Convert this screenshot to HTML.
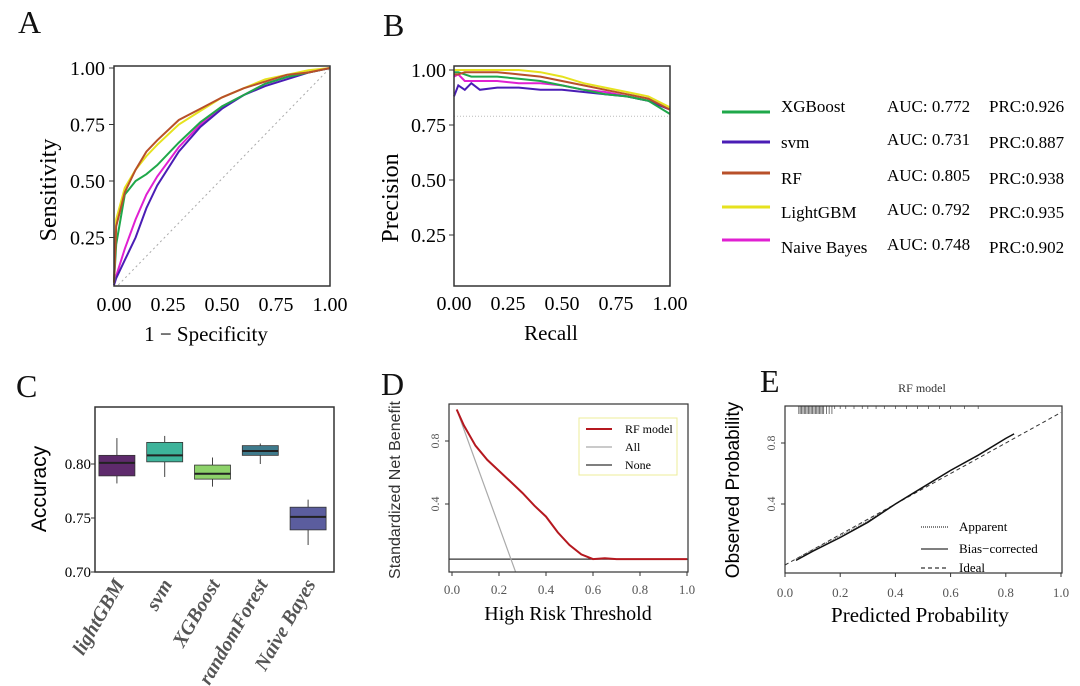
<!DOCTYPE html>
<html><head><meta charset="utf-8">
<style>
html,body{margin:0;padding:0;background:#fff;}
svg{display:block;font-family:"Liberation Serif",serif;}
</style></head>
<body>
<svg id="fig" width="1080" height="686" viewBox="0 0 1080 686" xmlns="http://www.w3.org/2000/svg"></svg>
<script>
// ---------- Panel A (ROC) data ----------
const rocX = [0,0.01,0.05,0.1,0.15,0.2,0.3,0.4,0.5,0.6,0.7,0.8,0.9,1];
const rocRF = [0.05,0.3,0.45,0.55,0.63,0.68,0.77,0.82,0.87,0.91,0.94,0.97,0.98,1];
const rocLGB = [0.05,0.33,0.47,0.55,0.61,0.66,0.75,0.81,0.87,0.91,0.95,0.97,0.99,1];
const rocXGB = [0.05,0.22,0.44,0.50,0.53,0.57,0.67,0.76,0.83,0.88,0.93,0.96,0.98,1];
const rocSVM = [0.04,0.07,0.15,0.25,0.38,0.48,0.63,0.74,0.82,0.88,0.92,0.95,0.98,1];
const rocNB = [0.04,0.08,0.2,0.33,0.44,0.52,0.65,0.75,0.83,0.88,0.93,0.96,0.98,1];
// ---------- Panel B (PR) data ----------
const prX = [0,0.02,0.05,0.08,0.12,0.2,0.3,0.4,0.5,0.6,0.7,0.8,0.9,1];
const prRF = [0.98,0.98,0.99,0.99,0.99,0.99,0.98,0.97,0.95,0.93,0.91,0.89,0.87,0.82];
const prLGB = [1,1,1,1,1,1,1,0.99,0.97,0.94,0.92,0.9,0.88,0.83];
const prXGB = [0.99,0.99,0.98,0.97,0.97,0.97,0.96,0.95,0.93,0.91,0.89,0.88,0.86,0.80];
const prSVM = [0.88,0.93,0.91,0.94,0.91,0.92,0.92,0.91,0.91,0.9,0.89,0.88,0.86,0.82];
const prNB = [0.97,0.98,0.95,0.95,0.95,0.95,0.94,0.94,0.93,0.91,0.9,0.88,0.86,0.82];
const prBaseline = 0.79;
const seriesNames = ["XGBoost","svm","RF","LightGBM","Naive Bayes"];
const aucVals = ["0.772","0.731","0.805","0.792","0.748"];
const prcVals = ["0.926","0.887","0.938","0.935","0.902"];
const tickAB = [0,0.25,0.5,0.75,1];
// ---------- Panel C (boxplot) ----------
const boxCats = ["lightGBM","svm","XGBoost","randomForest","Naive Bayes"];
const boxMin = [0.782,0.788,0.779,0.800,0.725];
const boxQ1 = [0.789,0.802,0.786,0.808,0.739];
const boxMed = [0.801,0.808,0.791,0.812,0.751];
const boxQ3 = [0.808,0.820,0.799,0.817,0.760];
const boxMax = [0.824,0.826,0.806,0.819,0.767];
const accTicks = [0.70,0.75,0.80];
// ---------- Panel D (DCA) ----------
const dcaX = [0.02,0.05,0.1,0.15,0.2,0.25,0.3,0.35,0.4,0.45,0.5,0.55,0.6,0.65,0.7,0.75,0.8,0.9,1.0];
const dcaRF = [1.0,0.9,0.77,0.68,0.61,0.54,0.47,0.39,0.32,0.22,0.14,0.08,0.05,0.055,0.05,0.05,0.05,0.05,0.05];
const dcaAllX = [0.02,0.27];
const dcaAllY = [1.0,-0.03];
const dcaNone = 0.05;
const dcaTicksY = [0.4,0.8];
const tick01 = [0,0.2,0.4,0.6,0.8,1.0];
// ---------- Panel E (calibration) ----------
const calX = [0.04,0.1,0.2,0.3,0.4,0.5,0.6,0.7,0.8,0.83];
const calBias = [0.03,0.09,0.18,0.28,0.4,0.51,0.62,0.72,0.83,0.86];
const calApp = [0.04,0.1,0.19,0.29,0.4,0.51,0.62,0.72,0.83,0.86];
const rugX = [0.05,0.055,0.06,0.065,0.07,0.075,0.08,0.085,0.09,0.095,0.1,0.105,0.11,0.115,0.12,0.125,0.13,0.135,0.14,0.15,0.16,0.17,0.18,0.2,0.22,0.25,0.28,0.3,0.33,0.36,0.4,0.44,0.48,0.52,0.56,0.6,0.65,0.7];

const NS="http://www.w3.org/2000/svg";
const svg=document.getElementById('fig');
function mk(tag,attrs,parent){const e=document.createElementNS(NS,tag);for(const k in attrs)e.setAttribute(k,attrs[k]);(parent||svg).appendChild(e);return e;}
function txt(s,x,y,size,extra,parent){const e=mk('text',Object.assign({x:x,y:y,'font-size':size},extra||{}),parent);e.textContent=s;return e;}
function lin(d0,d1,r0,r1){return v=>r0+(v-d0)/(d1-d0)*(r1-r0);}
function pathFrom(xs,ys,sx,sy){return xs.map((v,i)=>(i?'L':'M')+sx(v).toFixed(1)+','+sy(ys[i]).toFixed(1)).join(' ');}

[["A",18,33],["B",383,36],["C",16,397],["D",381,395],["E",760,392]].forEach(l=>{
  const t=txt(l[0],l[1],l[2],32,{fill:'#111'});
  
  
});

const colors={XGBoost:'#1fa84a',svm:'#4a1db5',RF:'#b8502a',LightGBM:'#e6e21e','Naive Bayes':'#e020d2'};

// ===== Panel A =====
{
const g=mk('g',{});


const sx=lin(0,1,114,330), sy=lin(0,1,294,68);
const diag=mk('line',{x1:sx(0.02),y1:sy(0.04),x2:sx(1),y2:sy(1),stroke:'#aaa','stroke-dasharray':'2,3'},g);


const order=[["Naive Bayes",rocNB],["svm",rocSVM],["XGBoost",rocXGB],["LightGBM",rocLGB],["RF",rocRF]];
order.forEach(o=>{
  const p=mk('path',{d:pathFrom(rocX,o[1],sx,sy),fill:'none',stroke:colors[o[0]],'stroke-width':2},g);
  
  
});
const frame=mk('rect',{x:114,y:66,width:216,height:220,fill:'none',stroke:'#333','stroke-width':1.5},g);


tickAB.forEach(v=>{
  if(v>0){mk('line',{x1:109,x2:114,y1:sy(v),y2:sy(v),stroke:'#333'},g);
  const t=txt(v.toFixed(2),105,sy(v)+7,20,{'text-anchor':'end'},g);
  
  }
  const t2=txt(v.toFixed(2),sx(v),311,20,{'text-anchor':'middle'},g);
  
  
});
const yt=txt('Sensitivity',0,0,24,{transform:'translate(56,190) rotate(-90)','text-anchor':'middle'},g);


const xt=txt('1 − Specificity',206,341,21,{'text-anchor':'middle'},g);


}

// ===== Panel B =====
{
const g=mk('g',{});


const sx=lin(0,1,454,670), sy=lin(0,1,290,70);
const bl=mk('line',{x1:sx(0),x2:sx(1),y1:sy(prBaseline),y2:sy(prBaseline),stroke:'#bbb','stroke-dasharray':'1,2'},g);


const order=[["Naive Bayes",prNB],["svm",prSVM],["XGBoost",prXGB],["RF",prRF],["LightGBM",prLGB]];
order.forEach(o=>{
  const p=mk('path',{d:pathFrom(prX,o[1],sx,sy),fill:'none',stroke:colors[o[0]],'stroke-width':2},g);
  
  
});
const frame=mk('rect',{x:454,y:66,width:216,height:220,fill:'none',stroke:'#333','stroke-width':1.5},g);


tickAB.forEach(v=>{
  if(v>0){mk('line',{x1:449,x2:454,y1:sy(v),y2:sy(v),stroke:'#333'},g);
  const t=txt(v.toFixed(2),446,sy(v)+7,20,{'text-anchor':'end'},g);
  
  }
  const t2=txt(v.toFixed(2),sx(v),310,20,{'text-anchor':'middle'},g);
  
  
});
const yt=txt('Precision',0,0,24,{transform:'translate(398,198) rotate(-90)','text-anchor':'middle'},g);


const xt=txt('Recall',551,340,21,{'text-anchor':'middle'},g);


}

// ===== Legend =====
{
const g=mk('g',{});


const ys=[112,142,173,207,240];
const tys=[112,148,184,218,253];
seriesNames.forEach((n,i)=>{
  const l=mk('line',{x1:722,x2:770,y1:ys[i],y2:ys[i],stroke:colors[n],'stroke-width':3},g);
  
  
  const t=txt(n,781,tys[i],17,{},g);
  
  
  const a=txt('AUC: '+aucVals[i],887,tys[i]-(i==0?0:3),17,{},g);
  
  
  const p=txt('PRC:'+prcVals[i],989,tys[i],17,{},g);
  
  
});
}

// ===== Panel C =====
{
const g=mk('g',{});


const sy=lin(0.70,0.80,572,464);
const boxColors=['#5e2a6c','#3db39a','#8dd26a','#3e7a8c','#5b5d9e'];
const x0=95,bw=239/5;
boxCats.forEach((c,i)=>{
  const cx=x0+bw*(i+0.5)-2;
  const w=mk('line',{x1:cx,x2:cx,y1:sy(boxMin[i]),y2:sy(boxMax[i]),stroke:'#444','stroke-width':1},g);
  
  
  const r=mk('rect',{x:cx-18,y:sy(boxQ3[i]),width:36,height:sy(boxQ1[i])-sy(boxQ3[i]),fill:boxColors[i],stroke:'#333','stroke-width':0.8},g);
  
  
  const m=mk('line',{x1:cx-18,x2:cx+18,y1:sy(boxMed[i]),y2:sy(boxMed[i]),stroke:'#222','stroke-width':2},g);
  
  
  const t=txt(c,0,0,20,{'font-weight':'bold','font-style':'italic','text-anchor':'end',fill:'#555',transform:`translate(${cx+8},${584}) rotate(-60)`},g);
  
  
});
const frame=mk('rect',{x:95,y:407,width:239,height:165,fill:'none',stroke:'#333','stroke-width':1.5},g);


accTicks.forEach(v=>{
  mk('line',{x1:91,x2:95,y1:sy(v),y2:sy(v),stroke:'#333'},g);
  const t=txt(v.toFixed(2),91,sy(v)+5,15,{'text-anchor':'end'},g);
  
  
});
const yt=txt('Accuracy',0,0,21,{transform:'translate(46,489) rotate(-90)','text-anchor':'middle','font-family':'Liberation Sans, sans-serif'},g);


}

// ===== Panel D =====
{
const g=mk('g',{});


const sx=lin(0,1,452,687), sy=lin(0,1,567,409.5);
const cp=mk('clipPath',{id:'clipD'},g);
mk('rect',{x:449,y:404,width:239,height:168},cp);
const nl=mk('line',{x1:449,x2:688,y1:sy(dcaNone),y2:sy(dcaNone),stroke:'#333','stroke-width':1.2},g);


const al=mk('path',{d:pathFrom(dcaAllX,dcaAllY,sx,sy),stroke:'#aaa','stroke-width':1.2,fill:'none','clip-path':'url(#clipD)'},g);


const rf=mk('path',{d:pathFrom(dcaX,dcaRF,sx,sy),stroke:'#b5181f','stroke-width':2,fill:'none'},g);


const frame=mk('rect',{x:449,y:404,width:239,height:168,fill:'none',stroke:'#333','stroke-width':1.2},g);


dcaTicksY.forEach(v=>{
  mk('line',{x1:445,x2:449,y1:sy(v),y2:sy(v),stroke:'#333'},g);
  const t=txt(v.toFixed(1),0,0,12,{transform:`translate(439,${sy(v)}) rotate(-90)`,'text-anchor':'middle',fill:'#555'},g);
  
  
});
tick01.forEach(v=>{
  mk('line',{x1:sx(v),x2:sx(v),y1:572,y2:576,stroke:'#333'},g);
  const t=txt(v.toFixed(1),sx(v),594,13,{'text-anchor':'middle',fill:'#555'},g);
  
  
});
const yt=txt('Standardized Net Benefit',0,0,16,{transform:'translate(400,490) rotate(-90)','text-anchor':'middle','font-family':'Liberation Sans, sans-serif',fill:'#333'},g);


const xt=txt('High Risk Threshold',568,620,20,{'text-anchor':'middle'},g);


const lg=mk('g',{},g);


mk('rect',{x:579,y:418,width:98,height:57,fill:'#fff',stroke:'#ecec9a'},lg);
[['RF model','#b5181f',2,429],['All','#aaa',1.2,447],['None','#333',1.2,465]].forEach(e=>{
  mk('line',{x1:586,x2:612,y1:e[3],y2:e[3],stroke:e[1],'stroke-width':e[2]},lg);
  const t=txt(e[0],625,e[3]+4,12,{},lg);
  
  
});
}

// ===== Panel E =====
{
const g=mk('g',{});


const sx=lin(0,1,785,1061), sy=lin(0,1,565,412.5);
rugX.forEach(v=>{
  const r=mk('line',{x1:sx(v),x2:sx(v),y1:406,y2:v<0.18?414:409,stroke:'#555','stroke-width':0.8},g);
  
  
});
const id=mk('line',{x1:sx(0),y1:sy(0),x2:sx(1.0),y2:sy(1.0),stroke:'#333','stroke-dasharray':'4,3'},g);


const ap=mk('path',{d:pathFrom(calX,calApp,sx,sy),fill:'none',stroke:'#666','stroke-dasharray':'1,1'},g);


const bc=mk('path',{d:pathFrom(calX,calBias,sx,sy),fill:'none',stroke:'#111','stroke-width':1.5},g);


const frame=mk('rect',{x:785,y:406,width:277,height:167,fill:'none',stroke:'#333','stroke-width':1.2},g);


[0.4,0.8].forEach(v=>{
  mk('line',{x1:781,x2:785,y1:sy(v),y2:sy(v),stroke:'#333'},g);
  const t=txt(v.toFixed(1),0,0,12,{transform:`translate(775,${sy(v)}) rotate(-90)`,'text-anchor':'middle',fill:'#555'},g);
  
  
});
tick01.forEach(v=>{
  mk('line',{x1:sx(v),x2:sx(v),y1:573,y2:577,stroke:'#333'},g);
  const t=txt(v.toFixed(1),sx(v),597,13,{'text-anchor':'middle',fill:'#555'},g);
  
  
});
const ti=txt('RF model',922,392,12,{'text-anchor':'middle',fill:'#333'},g);


const yt=txt('Observed Probability',0,0,19,{transform:'translate(739,490) rotate(-90)','text-anchor':'middle','font-family':'Liberation Sans, sans-serif'},g);


const xt=txt('Predicted Probability',920,622,21,{'text-anchor':'middle'},g);


const lg=mk('g',{},g);


[['Apparent','1,1',527],['Bias−corrected','',549],['Ideal','4,3',568]].forEach(e=>{
  mk('line',{x1:921,x2:948,y1:e[2],y2:e[2],stroke:'#333','stroke-width':1.2,'stroke-dasharray':e[1]||'none'},lg);
  const t=txt(e[0],959,e[2]+4,13,{},lg);
  
  
});
}
</script>
</body></html>
